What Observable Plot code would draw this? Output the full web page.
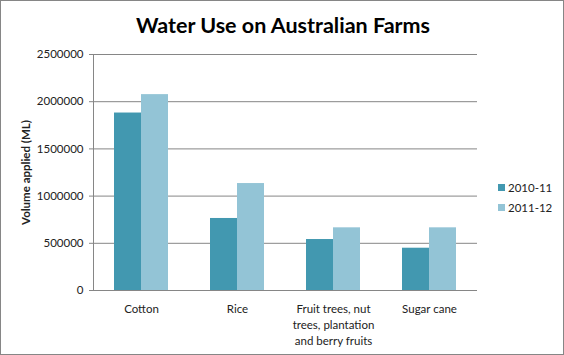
<!DOCTYPE html>
<html>
<head>
<meta charset="utf-8">
<script src="https://cdn.jsdelivr.net/npm/d3@7"></script>
<script src="https://cdn.jsdelivr.net/npm/@observablehq/plot@0.6"></script>
<style>
  html, body { margin: 0; padding: 0; background: #fff; }
  #chart { position: relative; width: 564px; height: 355px; font-family: Lato, "Open Sans", sans-serif; overflow: hidden; }
  #frame { position: absolute; left: 0; top: 0; width: 564px; height: 355px; box-sizing: border-box; border: 1px solid #868686; pointer-events: none; }
  #title { height: 40px; line-height: 50px; text-align: center; font-size: 21.5px; font-weight: bold; color: #000; padding-left: 2px; }
  #legend { position: absolute; left: 498px; top: 178px; }
  #legend svg { margin-right: 3px !important; }
  #chart svg { display: block; }
  g[aria-label="y-axis label"] text { font-weight: bold; }
</style>
</head>
<body>
<div id="chart">
  <div id="title">Water Use on Australian Farms</div>
  <div id="plot"></div>
  <div id="legend"></div>
  <div id="frame"></div>
</div>
<script>
const categories = ["Cotton", "Rice", "Fruit trees, nut trees, plantation and berry fruits", "Sugar cane"];
const tickLabels = ["Cotton", "Rice", "Fruit trees, nut\ntrees, plantation\nand berry fruits", "Sugar cane"];
const years = ["2010-11", "2011-12"];
const values2010 = [1880000, 763000, 540000, 448000];
const values2011 = [2075000, 1133000, 664000, 664000];
const yTicks = [0, 500000, 1000000, 1500000, 2000000, 2500000];
const colors = ["#4298b0", "#93c4d6"];

const data = [];
categories.forEach((c, i) => {
  data.push({category: c, year: years[0], value: values2010[i]});
  data.push({category: c, year: years[1], value: values2011[i]});
});
const labelOf = new Map(categories.map((c, i) => [c, tickLabels[i]]));

const plot = Plot.plot({
  width: 564,
  height: 315,
  marginLeft: 92,
  marginRight: 86,
  marginTop: 14,
  marginBottom: 65,
  style: {fontFamily: "Lato, 'Open Sans', sans-serif", fontSize: "11.5px", color: "#222", background: "#fff"},
  fx: {domain: categories, padding: 0, label: null},
  x: {domain: years, paddingInner: 0, paddingOuter: 0.755, axis: null},
  y: {domain: [0, 2500000], label: null},
  color: {domain: years, range: colors},
  marks: [
    Plot.gridY(yTicks, {stroke: "#868686", strokeOpacity: 1}),
    Plot.frame({anchor: "left", facetAnchor: "left", stroke: "#868686"}),
    Plot.barY(data, {fx: "category", x: "year", y: "value", fill: "year", inset: 0}),
    Plot.ruleY([0], {stroke: "#868686"}),
    Plot.axisY(yTicks, {
      tickFormat: d3.format("d"), tickSize: 4, tickPadding: 6, stroke: "#868686",
      label: "Volume applied (ML)", labelAnchor: "center", labelArrow: "none", labelOffset: 72, fill: "#222"
    }),
    Plot.axisFx({anchor: "bottom", tickSize: 0, tickPadding: 11, tickFormat: d => labelOf.get(d), lineHeight: 1.38, label: null, fill: "#222"})
  ]
});
document.getElementById("plot").appendChild(plot);

const legend = Plot.legend({
  color: {domain: years, range: colors},
  columns: 1, swatchSize: 7,
  style: {fontFamily: "Lato, 'Open Sans', sans-serif", fontSize: "11.5px", color: "#222", lineHeight: "19px"}
});
document.getElementById("legend").appendChild(legend);
</script>
</body>
</html>
